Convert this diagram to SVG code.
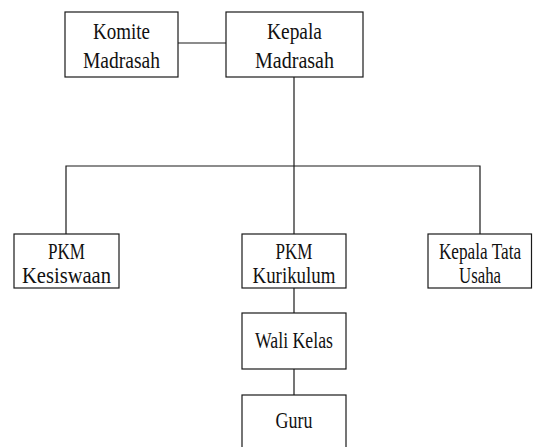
<svg xmlns="http://www.w3.org/2000/svg" width="533" height="447" viewBox="0 0 533 447">
  <style>
    .box { fill: #ffffff; stroke: #1a1a1a; stroke-width: 1.2; }
    .lbl { font-family: "Liberation Serif", "Times New Roman", serif; font-size: 23px; fill: #111111; text-anchor: middle; }
    .link { fill: none; stroke: #1a1a1a; stroke-width: 1.2; }
  </style>
  <rect width="533" height="447" fill="#ffffff"/>

  <g id="connectors">
    <line class="link" x1="178" y1="43" x2="226" y2="43"/>
    <line class="link" x1="294" y1="77" x2="294" y2="234"/>
    <polyline class="link" points="66,234 66,166 480,166 480,234"/>
    <line class="link" x1="294" y1="288" x2="294" y2="313"/>
    <line class="link" x1="294" y1="369" x2="294" y2="395"/>
  </g>

  <g id="komite-madrasah">
    <rect class="box" x="65" y="12" width="113" height="65"/>
    <text class="lbl" x="121.5" y="39" textLength="57" lengthAdjust="spacingAndGlyphs">Komite</text>
    <text class="lbl" x="121.5" y="68" textLength="77" lengthAdjust="spacingAndGlyphs">Madrasah</text>
  </g>

  <g id="kepala-madrasah">
    <rect class="box" x="226" y="12" width="137" height="65"/>
    <text class="lbl" x="294.5" y="39" textLength="55" lengthAdjust="spacingAndGlyphs">Kepala</text>
    <text class="lbl" x="294.5" y="68" textLength="79" lengthAdjust="spacingAndGlyphs">Madrasah</text>
  </g>

  <g id="pkm-kesiswaan">
    <rect class="box" x="14" y="234" width="105" height="54"/>
    <text class="lbl" x="66.5" y="259" textLength="37" lengthAdjust="spacingAndGlyphs">PKM</text>
    <text class="lbl" x="66.5" y="283" textLength="89" lengthAdjust="spacingAndGlyphs">Kesiswaan</text>
  </g>

  <g id="pkm-kurikulum">
    <rect class="box" x="242" y="234" width="104" height="54"/>
    <text class="lbl" x="294" y="259" textLength="37" lengthAdjust="spacingAndGlyphs">PKM</text>
    <text class="lbl" x="294" y="283" textLength="83" lengthAdjust="spacingAndGlyphs">Kurikulum</text>
  </g>

  <g id="kepala-tata-usaha">
    <rect class="box" x="428" y="234" width="103.5" height="54"/>
    <!-- narrow label: squeezed horizontally with a transform so it stays inside the box -->
    <text class="lbl" transform="translate(480 259) scale(0.75 1)">Kepala Tata</text>
    <text class="lbl" x="480" y="283" textLength="42" lengthAdjust="spacingAndGlyphs">Usaha</text>
  </g>

  <g id="wali-kelas">
    <rect class="box" x="242" y="313" width="104" height="56"/>
    <text class="lbl" x="294" y="348" textLength="78" lengthAdjust="spacingAndGlyphs">Wali Kelas</text>
  </g>

  <g id="guru">
    <rect class="box" x="242" y="395" width="104" height="60"/>
    <text class="lbl" x="294" y="428" textLength="37" lengthAdjust="spacingAndGlyphs">Guru</text>
  </g>
</svg>
